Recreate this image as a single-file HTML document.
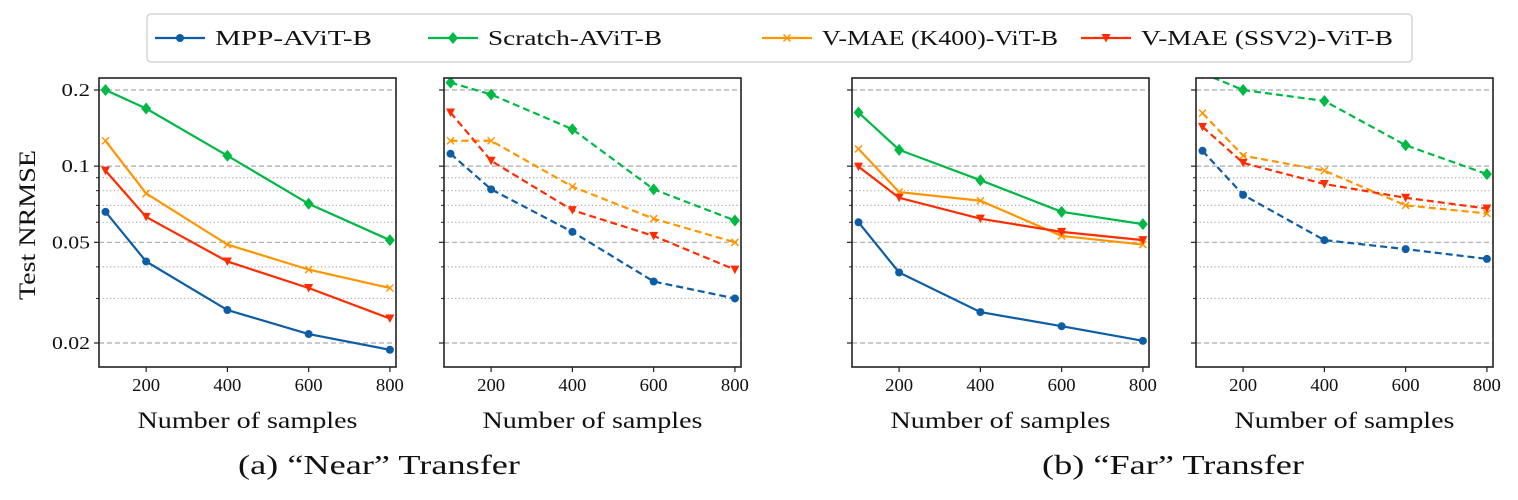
<!DOCTYPE html>
<html><head><meta charset="utf-8">
<style>
body{margin:0;background:#fff;width:1518px;height:495px;overflow:hidden}
svg text{font-family:"Liberation Serif",serif;fill:#111}
</style></head>
<body>
<svg id="chart" width="1518" height="495" xmlns="http://www.w3.org/2000/svg"></svg>
<script>
const samples=[100,200,400,600,800];
const seriesNames=["MPP-AViT-B","Scratch-AViT-B","V-MAE (K400)-ViT-B","V-MAE (SSV2)-ViT-B"];
const xTicks=[200,400,600,800];
const yMajorTicks=[0.02,0.05,0.1,0.2];
const yMajorLabels=["0.02","0.05","0.1","0.2"];
const yMinorTicks=[0.03,0.04,0.06,0.07,0.08,0.09];
// panel 1: near, solid
const p1Mpp=[0.066,0.042,0.027,0.0217,0.0188];
const p1Scratch=[0.2,0.169,0.110,0.071,0.051];
const p1K400=[0.126,0.078,0.049,0.039,0.033];
const p1Ssv2=[0.096,0.063,0.042,0.033,0.025];
// panel 2: near, dashed
const p2Mpp=[0.112,0.081,0.055,0.035,0.030];
const p2Scratch=[0.214,0.192,0.140,0.081,0.061];
const p2K400=[0.126,0.126,0.083,0.062,0.050];
const p2Ssv2=[0.163,0.105,0.067,0.053,0.039];
// panel 3: far, solid
const p3Mpp=[0.060,0.038,0.0265,0.0233,0.0204];
const p3Scratch=[0.163,0.116,0.088,0.066,0.059];
const p3K400=[0.117,0.079,0.073,0.053,0.049];
const p3Ssv2=[0.0996,0.075,0.062,0.055,0.051];
// panel 4: far, dashed
const p4Mpp=[0.115,0.077,0.051,0.047,0.043];
const p4Scratch=[0.233,0.2,0.181,0.121,0.093];
const p4K400=[0.162,0.110,0.096,0.070,0.065];
const p4Ssv2=[0.143,0.103,0.085,0.075,0.068];

const NS="http://www.w3.org/2000/svg";
const svg=document.getElementById('chart');
function mk(tag,attrs,parent){const e=document.createElementNS(NS,tag);for(const k in attrs)e.setAttribute(k,attrs[k]);(parent||svg).appendChild(e);return e;}
const colors=["#0c5da5","#00b945","#ff9500","#ff2c00"];
const markers=["circle","diamond","x","tri"];
const TOP=78,BOT=367,W=297;
const yScale=v=>90+253*Math.log10(0.2/v);
function xScaleFor(left){return v=>left+(v-84)*W/731;}
function marker(g,type,x,y,c){
  if(type==="circle")return mk('circle',{cx:x,cy:y,r:4,fill:c},g);
  if(type==="diamond")return mk('polygon',{points:`${x},${y-6} ${x+5},${y} ${x},${y+6} ${x-5},${y}`,fill:c},g);
  if(type==="x")return mk('path',{d:`M${x-3.5},${y-3.5}L${x+3.5},${y+3.5}M${x-3.5},${y+3.5}L${x+3.5},${y-3.5}`,stroke:c,'stroke-width':1.5},g);
  return mk('polygon',{points:`${x-4.5},${y-4} ${x+4.5},${y-4} ${x},${y+4.5}`,fill:c},g);
}
const panels=[
 {left:99,data:[p1Mpp,p1Scratch,p1K400,p1Ssv2],dash:false,labels:true},
 {left:444,data:[p2Mpp,p2Scratch,p2K400,p2Ssv2],dash:true,labels:false},
 {left:852,data:[p3Mpp,p3Scratch,p3K400,p3Ssv2],dash:false,labels:false},
 {left:1196,data:[p4Mpp,p4Scratch,p4K400,p4Ssv2],dash:true,labels:false}
];
panels.forEach((p,pi)=>{
  const g=mk('g',{});
  
  
  const xs=xScaleFor(p.left);
  const cp=mk('clipPath',{id:'cp'+pi},g);
  mk('rect',{x:p.left,y:TOP,width:W,height:BOT-TOP},cp);
  yMajorTicks.forEach((t,i)=>{
    const y=yScale(t);
    const gl=mk('line',{x1:p.left,x2:p.left+W,y1:y,y2:y,stroke:'#aaa','stroke-width':1.2,'stroke-dasharray':'5,3'},g);
    
    
    mk('line',{x1:p.left-5,x2:p.left,y1:y,y2:y,stroke:'#222','stroke-width':1.2},g);
    if(p.labels){const lbl=yMajorLabels[i];
      const tx=mk('text',{x:p.left-9,y:y+6,'text-anchor':'end','font-size':18,textLength:lbl.length*9.5,lengthAdjust:'spacingAndGlyphs'},g);tx.textContent=lbl;
      }
  });
  yMinorTicks.forEach(t=>{
    const y=yScale(t);
    const gl=mk('line',{x1:p.left,x2:p.left+W,y1:y,y2:y,stroke:'#aaa','stroke-width':1.2,'stroke-dasharray':'1.2,2.5'},g);
    
    
    mk('line',{x1:p.left-3,x2:p.left,y1:y,y2:y,stroke:'#222','stroke-width':1},g);
  });
  xTicks.forEach(t=>{
    const x=xs(t);
    mk('line',{x1:x,x2:x,y1:BOT,y2:BOT+5,stroke:'#222','stroke-width':1.2},g);
    const tx=mk('text',{x:x,y:BOT+24,'text-anchor':'middle','font-size':18,textLength:28,lengthAdjust:'spacingAndGlyphs'},g);tx.textContent=t;
    
  });
  const sg=mk('g',{'clip-path':`url(#cp${pi})`},g);
  p.data.forEach((vals,si)=>{
    const pts=vals.map((v,i)=>[xs(samples[i]),yScale(v)]);
    const ln=mk('polyline',{points:pts.map(q=>q.join(',')).join(' '),fill:'none',stroke:colors[si],'stroke-width':2.2,'stroke-dasharray':p.dash?'7,4':'none'},sg);
    
    
    pts.forEach(q=>{const m=marker(sg,markers[si],q[0],q[1],colors[si]);
      });
  });
  const fr=mk('rect',{x:p.left,y:TOP,width:W,height:BOT-TOP,fill:'none',stroke:'#222','stroke-width':1.6},g);
  
  const xl=mk('text',{x:p.left+W/2,y:428,'text-anchor':'middle','font-size':23,textLength:220,lengthAdjust:'spacingAndGlyphs'},g);xl.textContent='Number of samples';
  
});
const yl=mk('text',{x:0,y:0,transform:'translate(35,225) rotate(-90)','text-anchor':'middle','font-size':23,textLength:150,lengthAdjust:'spacingAndGlyphs'});yl.textContent='Test NRMSE';

const c1=mk('text',{x:379,y:474,'text-anchor':'middle','font-size':27,textLength:282,lengthAdjust:'spacingAndGlyphs'});c1.textContent='(a) “Near” Transfer';

const c2=mk('text',{x:1173,y:474,'text-anchor':'middle','font-size':27,textLength:262,lengthAdjust:'spacingAndGlyphs'});c2.textContent='(b) “Far” Transfer';

// legend
const lg=mk('g',{});


mk('rect',{x:147,y:14,width:1265,height:48,rx:4,fill:'#fff',stroke:'#ccc','stroke-width':1.2},lg);
const legX=[155,428,762,1081];
const legW=[157,174,236,252];
seriesNames.forEach((n,i)=>{
  const e=mk('g',{},lg);
  
  
  mk('line',{x1:legX[i],x2:legX[i]+50,y1:38,y2:38,stroke:colors[i],'stroke-width':2.2},e);
  marker(e,markers[i],legX[i]+25,38,colors[i]);
  const t=mk('text',{x:legX[i]+60,y:45,'font-size':21,textLength:legW[i],lengthAdjust:'spacingAndGlyphs'},e);t.textContent=n;
});
</script>
</body></html>
